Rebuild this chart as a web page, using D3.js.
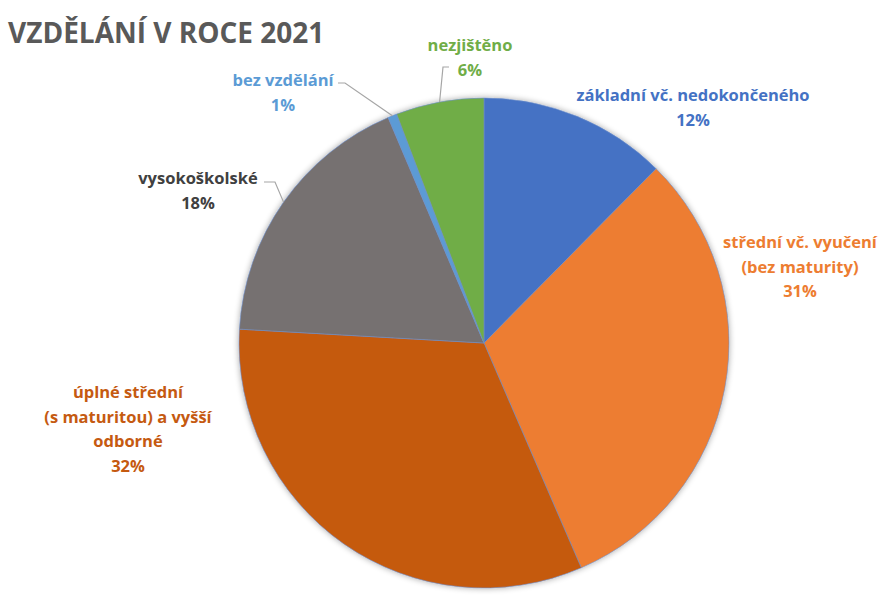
<!DOCTYPE html>
<html>
<head>
<meta charset="utf-8">
<script src="https://cdn.jsdelivr.net/npm/d3@7"></script>
<style>
    body { margin: 0; background: #fff; }
    text { font-family: "Open Sans", "Noto Sans", sans-serif; font-weight: 700; }
</style>
</head>
<body>
<div id="chart"></div>
<script>
// data, clockwise from 12 o'clock
const categories = [
    "základní vč. nedokončeného",
    "střední vč. vyučení (bez maturity)",
    "úplné střední (s maturitou) a vyšší odborné",
    "vysokoškolské",
    "bez vzdělání",
    "nezjištěno"
];
const shares = [12.4, 31.1, 32.4, 17.7, 0.6, 5.8];
const percentLabels = ["12%", "31%", "32%", "18%", "1%", "6%"];
const labelLines = [
    ["základní vč. nedokončeného"],
    ["střední vč. vyučení", "(bez maturity)"],
    ["úplné střední", "(s maturitou) a vyšší", "odborné"],
    ["vysokoškolské"],
    ["bez vzdělání"],
    ["nezjištěno"]
];
const colors = ["#4472C4", "#ED7D31", "#C55A11", "#767171", "#5B9BD5", "#70AD47"];
const textColors = ["#4472C4", "#ED7D31", "#C55A11", "#404040", "#5B9BD5", "#70AD47"];

// layout: label centre (first line) and optional leader elbow
const labelPos = [
    {x: 693, y: 101},
    {x: 800, y: 248},
    {x: 128, y: 398},
    {x: 198, y: 184, elbow: [275, 182], end: [264, 182]},
    {x: 283, y: 86, elbow: [345, 83], end: [338, 83]},
    {x: 470, y: 51, elbow: [443, 67], end: [449, 67]}
];

const width = 895, height = 597;
const cx = 484, cy = 343, radius = 245;
const lineH = 24.5;

const svg = d3.select("#chart").append("svg")
    .attr("width", width)
    .attr("height", height)
    .attr("viewBox", [0, 0, width, height]);

// soft shadow round the pie
const defs = svg.append("defs");
const f = defs.append("filter").attr("id", "shadow")
    .attr("x", "-10%").attr("y", "-10%").attr("width", "120%").attr("height", "120%");
f.append("feGaussianBlur").attr("in", "SourceAlpha").attr("stdDeviation", 3);
f.append("feOffset").attr("dx", 0).attr("dy", 0).attr("result", "blur");
f.append("feComponentTransfer").append("feFuncA").attr("type", "linear").attr("slope", 0.35);
const m = f.append("feMerge");
m.append("feMergeNode");
m.append("feMergeNode").attr("in", "SourceGraphic");

// title
svg.append("text")
    .attr("x", 8)
    .attr("y", 43)
    .attr("fill", "#595959")
    .attr("font-size", 28)
    .text("VZDĚLÁNÍ V ROCE 2021");

const pie = d3.pie().sort(null).value(d => d)(shares);
const arc = d3.arc().innerRadius(0).outerRadius(radius);
const edgeArc = d3.arc().innerRadius(radius).outerRadius(radius);

const g = svg.append("g").attr("transform", `translate(${cx},${cy})`);
g.append("g")
    .attr("filter", "url(#shadow)")
    .selectAll("path")
    .data(pie)
    .join("path")
    .attr("d", arc)
    .attr("fill", (d, i) => colors[i])
    .attr("stroke", "#6f8fc9")
    .attr("stroke-width", 0.6)
    .append("title")
    .text((d, i) => `${categories[i]}: ${percentLabels[i]}`);

// leader lines
pie.forEach((d, i) => {
    const p = labelPos[i];
    if (!p.elbow) return;
    const c = edgeArc.centroid(d);
    svg.append("polyline")
        .attr("points", [[cx + c[0], cy + c[1]], p.elbow, p.end].map(q => q.join(",")).join(" "))
        .attr("fill", "none")
        .attr("stroke", "#a6a6a6")
        .attr("stroke-width", 1.2);
});

// labels
const labels = svg.append("g").selectAll("text")
    .data(pie)
    .join("text")
    .attr("text-anchor", "middle")
    .attr("font-size", 16.5)
    .attr("fill", (d, i) => textColors[i])
    .attr("x", (d, i) => labelPos[i].x)
    .attr("y", (d, i) => labelPos[i].y);
labels.each(function (d, i) {
    const t = d3.select(this);
    labelLines[i].concat([percentLabels[i]]).forEach((s, k) => {
        t.append("tspan")
            .attr("x", labelPos[i].x)
            .attr("dy", k === 0 ? 0 : lineH)
            .text(s);
    });
});
</script>
</body>
</html>
